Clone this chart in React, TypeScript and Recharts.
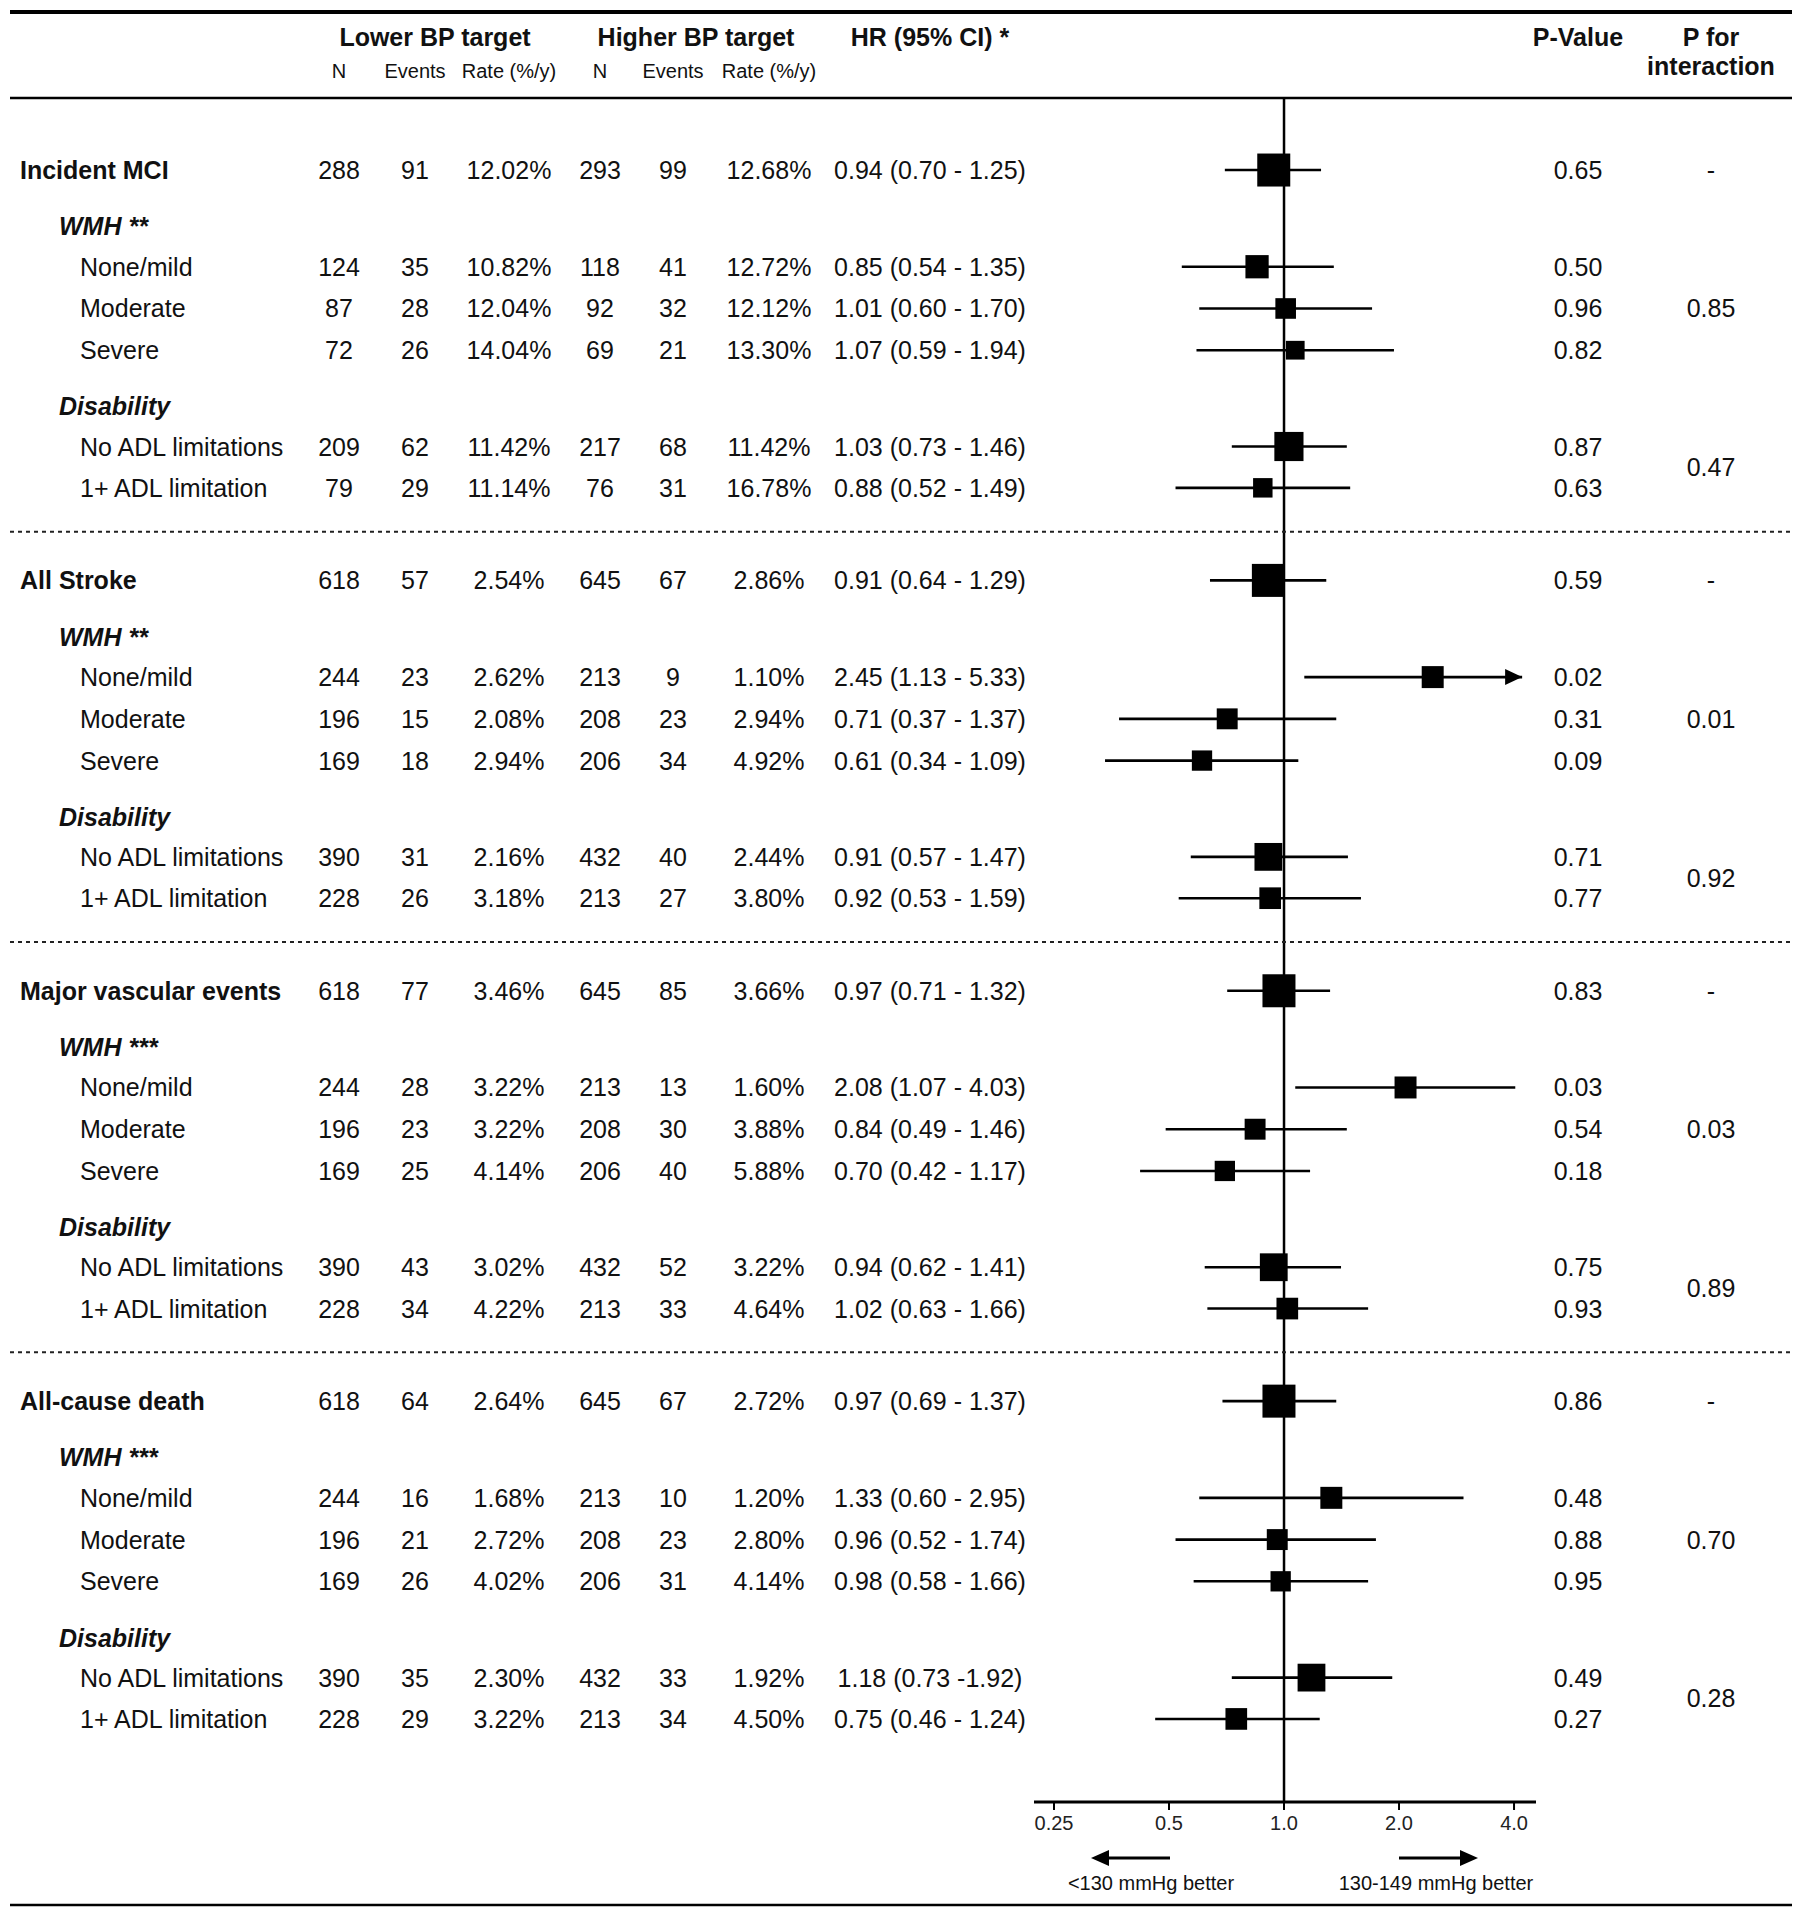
import React from "react";
import { ScatterChart, Scatter, XAxis, YAxis, ErrorBar, ReferenceLine } from "recharts";

const FONT = '"Liberation Sans", Arial, Helvetica, sans-serif';
const INK = "#111";

const OUTCOMES = ["Incident MCI", "All Stroke", "Major vascular events", "All-cause death"];
const WMH_TITLES = ["WMH **", "WMH **", "WMH ***", "WMH ***"];
const SUBGROUPS = ["None/mild", "Moderate", "Severe", "No ADL limitations", "1+ ADL limitation"];

// lower target: N, events, rate | higher target: N, events, rate | HR, lo, hi | HR text | p
type Vals = [number, number, string, number, number, string, number, number, number, string, string];

const MCI: Vals[] = [
  [288, 91, "12.02%", 293, 99, "12.68%", 0.94, 0.7, 1.25, "0.94 (0.70 - 1.25)", "0.65"],
  [124, 35, "10.82%", 118, 41, "12.72%", 0.85, 0.54, 1.35, "0.85 (0.54 - 1.35)", "0.50"],
  [87, 28, "12.04%", 92, 32, "12.12%", 1.01, 0.6, 1.7, "1.01 (0.60 - 1.70)", "0.96"],
  [72, 26, "14.04%", 69, 21, "13.30%", 1.07, 0.59, 1.94, "1.07 (0.59 - 1.94)", "0.82"],
  [209, 62, "11.42%", 217, 68, "11.42%", 1.03, 0.73, 1.46, "1.03 (0.73 - 1.46)", "0.87"],
  [79, 29, "11.14%", 76, 31, "16.78%", 0.88, 0.52, 1.49, "0.88 (0.52 - 1.49)", "0.63"],
];
const STROKE: Vals[] = [
  [618, 57, "2.54%", 645, 67, "2.86%", 0.91, 0.64, 1.29, "0.91 (0.64 - 1.29)", "0.59"],
  [244, 23, "2.62%", 213, 9, "1.10%", 2.45, 1.13, 5.33, "2.45 (1.13 - 5.33)", "0.02"],
  [196, 15, "2.08%", 208, 23, "2.94%", 0.71, 0.37, 1.37, "0.71 (0.37 - 1.37)", "0.31"],
  [169, 18, "2.94%", 206, 34, "4.92%", 0.61, 0.34, 1.09, "0.61 (0.34 - 1.09)", "0.09"],
  [390, 31, "2.16%", 432, 40, "2.44%", 0.91, 0.57, 1.47, "0.91 (0.57 - 1.47)", "0.71"],
  [228, 26, "3.18%", 213, 27, "3.80%", 0.92, 0.53, 1.59, "0.92 (0.53 - 1.59)", "0.77"],
];
const MVE: Vals[] = [
  [618, 77, "3.46%", 645, 85, "3.66%", 0.97, 0.71, 1.32, "0.97 (0.71 - 1.32)", "0.83"],
  [244, 28, "3.22%", 213, 13, "1.60%", 2.08, 1.07, 4.03, "2.08 (1.07 - 4.03)", "0.03"],
  [196, 23, "3.22%", 208, 30, "3.88%", 0.84, 0.49, 1.46, "0.84 (0.49 - 1.46)", "0.54"],
  [169, 25, "4.14%", 206, 40, "5.88%", 0.7, 0.42, 1.17, "0.70 (0.42 - 1.17)", "0.18"],
  [390, 43, "3.02%", 432, 52, "3.22%", 0.94, 0.62, 1.41, "0.94 (0.62 - 1.41)", "0.75"],
  [228, 34, "4.22%", 213, 33, "4.64%", 1.02, 0.63, 1.66, "1.02 (0.63 - 1.66)", "0.93"],
];
const DEATH: Vals[] = [
  [618, 64, "2.64%", 645, 67, "2.72%", 0.97, 0.69, 1.37, "0.97 (0.69 - 1.37)", "0.86"],
  [244, 16, "1.68%", 213, 10, "1.20%", 1.33, 0.6, 2.95, "1.33 (0.60 - 2.95)", "0.48"],
  [196, 21, "2.72%", 208, 23, "2.80%", 0.96, 0.52, 1.74, "0.96 (0.52 - 1.74)", "0.88"],
  [169, 26, "4.02%", 206, 31, "4.14%", 0.98, 0.58, 1.66, "0.98 (0.58 - 1.66)", "0.95"],
  [390, 35, "2.30%", 432, 33, "1.92%", 1.18, 0.73, 1.92, "1.18 (0.73 -1.92)", "0.49"],
  [228, 29, "3.22%", 213, 34, "4.50%", 0.75, 0.46, 1.24, "0.75 (0.46 - 1.24)", "0.27"],
];
const GROUP_VALUES = [MCI, STROKE, MVE, DEATH];
// p for interaction: WMH, Disability
const P_INTERACTION = [["0.85", "0.47"], ["0.01", "0.92"], ["0.03", "0.89"], ["0.70", "0.28"]];
const X_TICKS = [0.25, 0.5, 1, 2, 4];

// layout
const X_MIN = Math.pow(2, -2.174);
const X_MAX = Math.pow(2, 2.191);
const CAP = 4.2; // CI beyond this gets an arrow
const MAIN_SIDE = 33;

type Row = { kind: "main" | "head" | "sub" | "sep"; y: number; label?: string; vals?: Vals };
type Pt = { x: number; y: number; err: [number, number]; side: number };

const ROWS: Row[] = [];
const POINTS: Pt[] = [];
const ARROWS: { x: number; y: number }[] = [];
const PINT: { x: number; y: number; text: string }[] = [];

let cur = 1.743;
OUTCOMES.forEach((name, g) => {
  const v = GROUP_VALUES[g];
  if (g > 0) {
    cur += 1.06;
    ROWS.push({ kind: "sep", y: cur });
    cur += 1.18;
  }
  const nMain = v[0][0] + v[0][3];
  const addRow = (kind: "main" | "sub", label: string, vals: Vals) => {
    ROWS.push({ kind, label, vals, y: cur });
    const [n1, , , n2, , , hr, lo, hi] = vals;
    const side = kind === "main" ? MAIN_SIDE : MAIN_SIDE * Math.pow((n1 + n2) / nMain, 0.4);
    POINTS.push({ x: hr, y: cur, err: [hr - lo, Math.min(hi, CAP) - hr], side });
    if (hi > CAP) ARROWS.push({ x: CAP, y: cur });
  };
  addRow("main", name, v[0]);
  PINT.push({ x: 1, y: cur, text: "-" });

  cur += 1.36;
  ROWS.push({ kind: "head", label: WMH_TITLES[g], y: cur });
  const wmhYs: number[] = [];
  for (let i = 1; i <= 3; i++) {
    cur += i === 1 ? 0.98 : 1.01;
    addRow("sub", SUBGROUPS[i - 1], v[i]);
    wmhYs.push(cur);
  }
  PINT.push({ x: 1, y: wmhYs.reduce((a, b) => a + b, 0) / wmhYs.length, text: P_INTERACTION[g][0] });

  cur += 1.36;
  ROWS.push({ kind: "head", label: "Disability", y: cur });
  const disYs: number[] = [];
  for (let i = 4; i <= 5; i++) {
    cur += i === 4 ? 0.97 : 1.0;
    addRow("sub", SUBGROUPS[i - 1], v[i]);
    disYs.push(cur);
  }
  PINT.push({ x: 1, y: (disYs[0] + disYs[1]) / 2, text: P_INTERACTION[g][1] });
});
const Y_MAX = cur + 2.01;

const COLS = [339, 415, 509, 600, 673, 769];
const HR_X = 930;
const P_X = 1578;
const PINT_X = 1711;

const txt = { fontFamily: FONT, fontSize: 25, fill: INK } as const;

function RowTick(props: any) {
  const value = props.payload?.value;
  const row = ROWS.find((r) => Math.abs(r.y - value) < 1e-6);
  if (!row) return null;
  const y = props.y;
  if (row.kind === "sep") {
    return <line x1={10} x2={1792} y1={y} y2={y} stroke="#222" strokeWidth={2} strokeDasharray="4 4" />;
  }
  if (row.kind === "head") {
    return (
      <text x={59} y={y} dy="0.36em" {...txt} fontWeight="bold" fontStyle="italic">
        {row.label}
      </text>
    );
  }
  const v = row.vals!;
  const cells = [v[0], v[1], v[2], v[3], v[4], v[5]];
  return (
    <g>
      <text x={row.kind === "main" ? 20 : 80} y={y} dy="0.36em" {...txt} fontWeight={row.kind === "main" ? "bold" : "normal"}>
        {row.label}
      </text>
      {cells.map((c, i) => (
        <text key={i} x={COLS[i]} y={y} dy="0.36em" textAnchor="middle" {...txt}>
          {c}
        </text>
      ))}
      <text x={HR_X} y={y} dy="0.36em" textAnchor="middle" {...txt}>
        {v[9]}
      </text>
      <text x={P_X} y={y} dy="0.36em" textAnchor="middle" {...txt}>
        {v[10]}
      </text>
    </g>
  );
}

// p for interaction text, placed in its own column at the row's y from the scale
const PintLabel = (props: any) => (
  <text x={PINT_X} y={props.cy} dy="0.36em" textAnchor="middle" {...txt}>
    {props.payload?.text}
  </text>
);

const Square = (props: any) => {
  const s = props.payload?.side ?? 20;
  return <rect x={props.cx - s / 2} y={props.cy - s / 2} width={s} height={s} fill="#000" />;
};

const ArrowHead = (props: any) => {
  const { cx, cy } = props;
  return <polygon points={`${cx},${cy} ${cx - 17},${cy - 8} ${cx - 17},${cy + 8}`} fill="#000" />;
};

function Overlay() {
  const h = { ...txt, fontWeight: "bold" as const, textAnchor: "middle" as const };
  const sub = { fontFamily: FONT, fontSize: 20, fill: INK, textAnchor: "middle" as const };
  const subLabels = ["N", "Events", "Rate (%/y)", "N", "Events", "Rate (%/y)"];
  return (
    <svg width={1802} height={1920} style={{ position: "absolute", left: 0, top: 0, pointerEvents: "none" }}>
      <line x1={10} x2={1792} y1={12} y2={12} stroke="#000" strokeWidth={4} />
      <text x={435} y={37} dy="0.36em" {...h}>Lower BP target</text>
      <text x={696} y={37} dy="0.36em" {...h}>Higher BP target</text>
      <text x={HR_X} y={37} dy="0.36em" {...h}>HR (95% CI) *</text>
      <text x={P_X} y={37} dy="0.36em" {...h}>P-Value</text>
      <text x={PINT_X} y={37} dy="0.36em" {...h}>P for</text>
      <text x={PINT_X} y={66} dy="0.36em" {...h}>interaction</text>
      {subLabels.map((s, i) => (
        <text key={i} x={COLS[i]} y={71} dy="0.36em" {...sub}>{s}</text>
      ))}
      <line x1={10} x2={1792} y1={98} y2={98} stroke="#000" strokeWidth={2.5} />

      <line x1={1170} x2={1106} y1={1858} y2={1858} stroke="#000" strokeWidth={3} />
      <polygon points="1091,1858 1109,1850 1109,1866" fill="#000" />
      <line x1={1399} x2={1463} y1={1858} y2={1858} stroke="#000" strokeWidth={3} />
      <polygon points="1478,1858 1460,1850 1460,1866" fill="#000" />
      <text x={1151} y={1883} dy="0.36em" {...sub}>{"<130 mmHg better"}</text>
      <text x={1436} y={1883} dy="0.36em" {...sub}>130-149 mmHg better</text>
      <line x1={10} x2={1792} y1={1905} y2={1905} stroke="#000" strokeWidth={2.5} />
    </svg>
  );
}

export default function App() {
  return (
    <div style={{ position: "absolute", left: 0, top: 0, width: 1802, height: 1920, background: "#fff" }}>
      <ScatterChart width={1802} height={1920} margin={{ top: 98, right: 266, bottom: 0, left: 0 }}>
        <XAxis
          dataKey="x"
          type="number"
          scale="log"
          domain={[X_MIN, X_MAX]}
          ticks={X_TICKS}
          interval={0}
          tickFormatter={(v: number) => (v === 0.25 ? "0.25" : v.toFixed(1))}
          height={118}
          axisLine={{ stroke: "#000", strokeWidth: 3 }}
          tickLine={{ stroke: "#000", strokeWidth: 2 }}
          tickSize={8}
          tickMargin={6}
          tick={{ fontSize: 20, fill: "#222", fontFamily: FONT }}
        />
        <YAxis
          yAxisId="rows"
          dataKey="y"
          type="number"
          domain={[0, Y_MAX]}
          reversed
          ticks={ROWS.map((r) => r.y)}
          interval={0}
          width={1034}
          axisLine={false}
          tickLine={false}
          tick={(p: any) => <RowTick {...p} />}
        />
        <ReferenceLine x={1} yAxisId="rows" stroke="#000" strokeWidth={2.5} />
        <Scatter yAxisId="rows" data={POINTS} shape={Square} isAnimationActive={false}>
          <ErrorBar dataKey="err" direction="x" width={0} stroke="#000" strokeWidth={2.6} isAnimationActive={false} />
        </Scatter>
        <Scatter yAxisId="rows" data={ARROWS} shape={ArrowHead} isAnimationActive={false} />
        <Scatter yAxisId="rows" data={PINT} shape={PintLabel} isAnimationActive={false} />
      </ScatterChart>
      <Overlay />
    </div>
  );
}
